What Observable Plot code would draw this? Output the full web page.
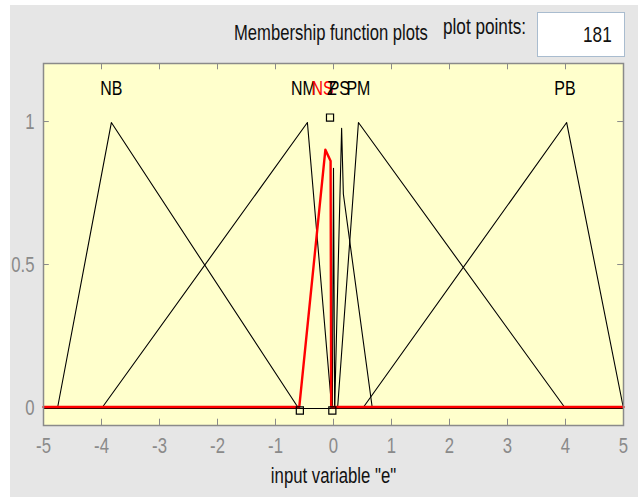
<!DOCTYPE html>
<html>
<head>
<meta charset="utf-8">
<script src="https://cdn.jsdelivr.net/npm/d3@7"></script>
<script src="https://cdn.jsdelivr.net/npm/@observablehq/plot@0.6"></script>
<style>
  html, body { margin: 0; padding: 0; background: #ffffff; }
  #wrap { position: relative; width: 638px; height: 497px; overflow: hidden; background: #ffffff; }
  #bg { position: absolute; left: 10px; top: 5px; right: 0; bottom: 0; background: #e6e6e6; }
  #chart { position: absolute; left: 0; top: 0; }
  .t { position: absolute; font-family: "Liberation Sans", Arial, sans-serif; color: #111; white-space: nowrap; transform: scaleX(0.78); line-height: 1; }
  #title { left: 234px; top: 22px; font-size: 22px; transform-origin: left center; transform: scaleX(0.755); }
  #pp { left: 443px; top: 16px; font-size: 22px; transform-origin: left center; }
  #box { position: absolute; left: 537px; top: 12px; width: 88px; height: 45px; background: #fff; border: 1px solid #a9bccf; box-sizing: border-box; }
  #boxval { right: 12px; top: 11px; font-size: 22px; transform-origin: right center; }
</style>
</head>
<body>
<div id="wrap">
  <div id="bg"></div>
  <div id="chart"></div>
  <div class="t" id="title">Membership function plots</div>
  <div class="t" id="pp">plot points:</div>
  <div id="box"><div class="t" id="boxval">181</div></div>
</div>
<script>
// ---- data ----
const xTicks = [-5, -4, -3, -2, -1, 0, 1, 2, 3, 4, 5];
const yTicks = [0, 0.5, 1];
const yTickLabels = ["0", "0.5", "1"];
const xLabel = 'input variable "e"';

const mfNames = ["NB", "NM", "NS", "Z", "PS", "PM", "PB"];
const selectedMf = "NS";
const nbX = [-5, -4.76, -3.83, -0.6, 5];
const nbY = [0, 0, 1, 0, 0];
const nmX = [-5, -4.0, -0.45, -0.03, 5];
const nmY = [0, 0, 1, 0, 0];
const nsX = [-5, -0.59, -0.14, -0.05, -0.04, 5];
const nsY = [0, 0, 0.9, 0.86, 0, 0];
const zX = [-5, -0.02, 0, 0.02, 5];
const zY = [0, 0, 0.84, 0, 0];
const psX = [-5, 0.02, 0.14, 0.17, 0.67, 5];
const psY = [0, 0, 0.98, 0.75, 0, 0];
const pmX = [-5, 0.07, 0.43, 4.0, 5];
const pmY = [0, 0, 1, 0, 0];
const pbX = [-5, 0.5, 4.02, 5];
const pbY = [0, 0, 1, 0];
const labelX = [-3.83, -0.52, -0.19, -0.03, 0.10, 0.43, 3.99];
const labelY = 1.115;
const squareX = [-0.58, -0.06, -0.02];
const squareY = [0, 1, 0];

const xDomain = [-5, 5];
const yDomain = [-0.063, 1.203];

// ---- build tables ----
const mfXs = [nbX, nmX, nsX, zX, psX, pmX, pbX];
const mfYs = [nbY, nmY, nsY, zY, psY, pmY, pbY];
const lines = [];
mfNames.forEach((name, i) => {
  mfXs[i].forEach((x, j) => lines.push({name, x, y: mfYs[i][j]}));
});
const blackLines = lines.filter(d => d.name !== selectedMf);
const redLine = lines.filter(d => d.name === selectedMf);
const labels = mfNames.map((name, i) => ({name, x: labelX[i], y: labelY}));
const squares = squareX.map((x, i) => ({x, y: squareY[i]}));

const font = '"Liberation Sans", Arial, sans-serif';
const gray = "#8a8a8a";
const tickLenY = 0.022, tickLenX = 0.1;

const chart = Plot.plot({
  width: 638,
  height: 497,
  marginLeft: 43,
  marginRight: 15,
  marginTop: 63,
  marginBottom: 72,
  style: {background: "transparent", fontFamily: font},
  x: {domain: xDomain},
  y: {domain: yDomain},
  marks: [
    Plot.frame({fill: "#ffffcc", stroke: null}),
    Plot.ruleX(xTicks, {x: d => d, y1: yDomain[0], y2: yDomain[0] + tickLenY, stroke: gray}),
    Plot.ruleX(xTicks, {x: d => d, y1: yDomain[1] - tickLenY, y2: yDomain[1], stroke: gray}),
    Plot.ruleY(yTicks, {y: d => d, x1: xDomain[0], x2: xDomain[0] + tickLenX, stroke: gray}),
    Plot.ruleY(yTicks, {y: d => d, x1: xDomain[1] - tickLenX, x2: xDomain[1], stroke: gray}),
    Plot.axisX(xTicks, {tickSize: 0, tickPadding: 12, fontSize: 22, fill: gray, label: null, tickFormat: d => String(d)}),
    Plot.axisY(yTicks, {tickSize: 0, tickPadding: 9, fontSize: 22, fill: gray, label: null, tickFormat: (d, i) => yTickLabels[i]}),
    Plot.line(blackLines, {x: "x", y: "y", z: "name", stroke: "#000", strokeWidth: 1.1, dy: 1}),
    Plot.line(redLine, {x: "x", y: "y", stroke: "#ff0000", strokeWidth: 2.4, dy: -0.5}),
    Plot.dot(squares.filter(d => d.y === 0), {x: "x", y: "y", symbol: "square", r: 4, stroke: "#000", fill: "none", strokeWidth: 1.2, dy: 3}),
    Plot.dot(squares.filter(d => d.y === 1), {x: "x", y: "y", symbol: "square", r: 4, stroke: "#000", fill: "none", strokeWidth: 1.2, dy: -4}),
    Plot.text(labels, {x: "x", y: "y", text: "name", fontSize: 21, fill: d => d.name === selectedMf ? "#ff0000" : "#000"}),
    Plot.text([xLabel], {text: d => d, frameAnchor: "bottom", dy: 57, fontSize: 22, fill: "#111"}),
    Plot.frame({stroke: gray, strokeWidth: 1.5})
  ]
});
document.getElementById("chart").appendChild(chart);
// condense glyphs horizontally like the reference's narrow font
chart.querySelectorAll("text").forEach(el => {
  const w = el.getComputedTextLength();
  if (w > 0) {
    el.setAttribute("textLength", (w * 0.76).toFixed(2));
    el.setAttribute("lengthAdjust", "spacingAndGlyphs");
  }
});
</script>
</body>
</html>
